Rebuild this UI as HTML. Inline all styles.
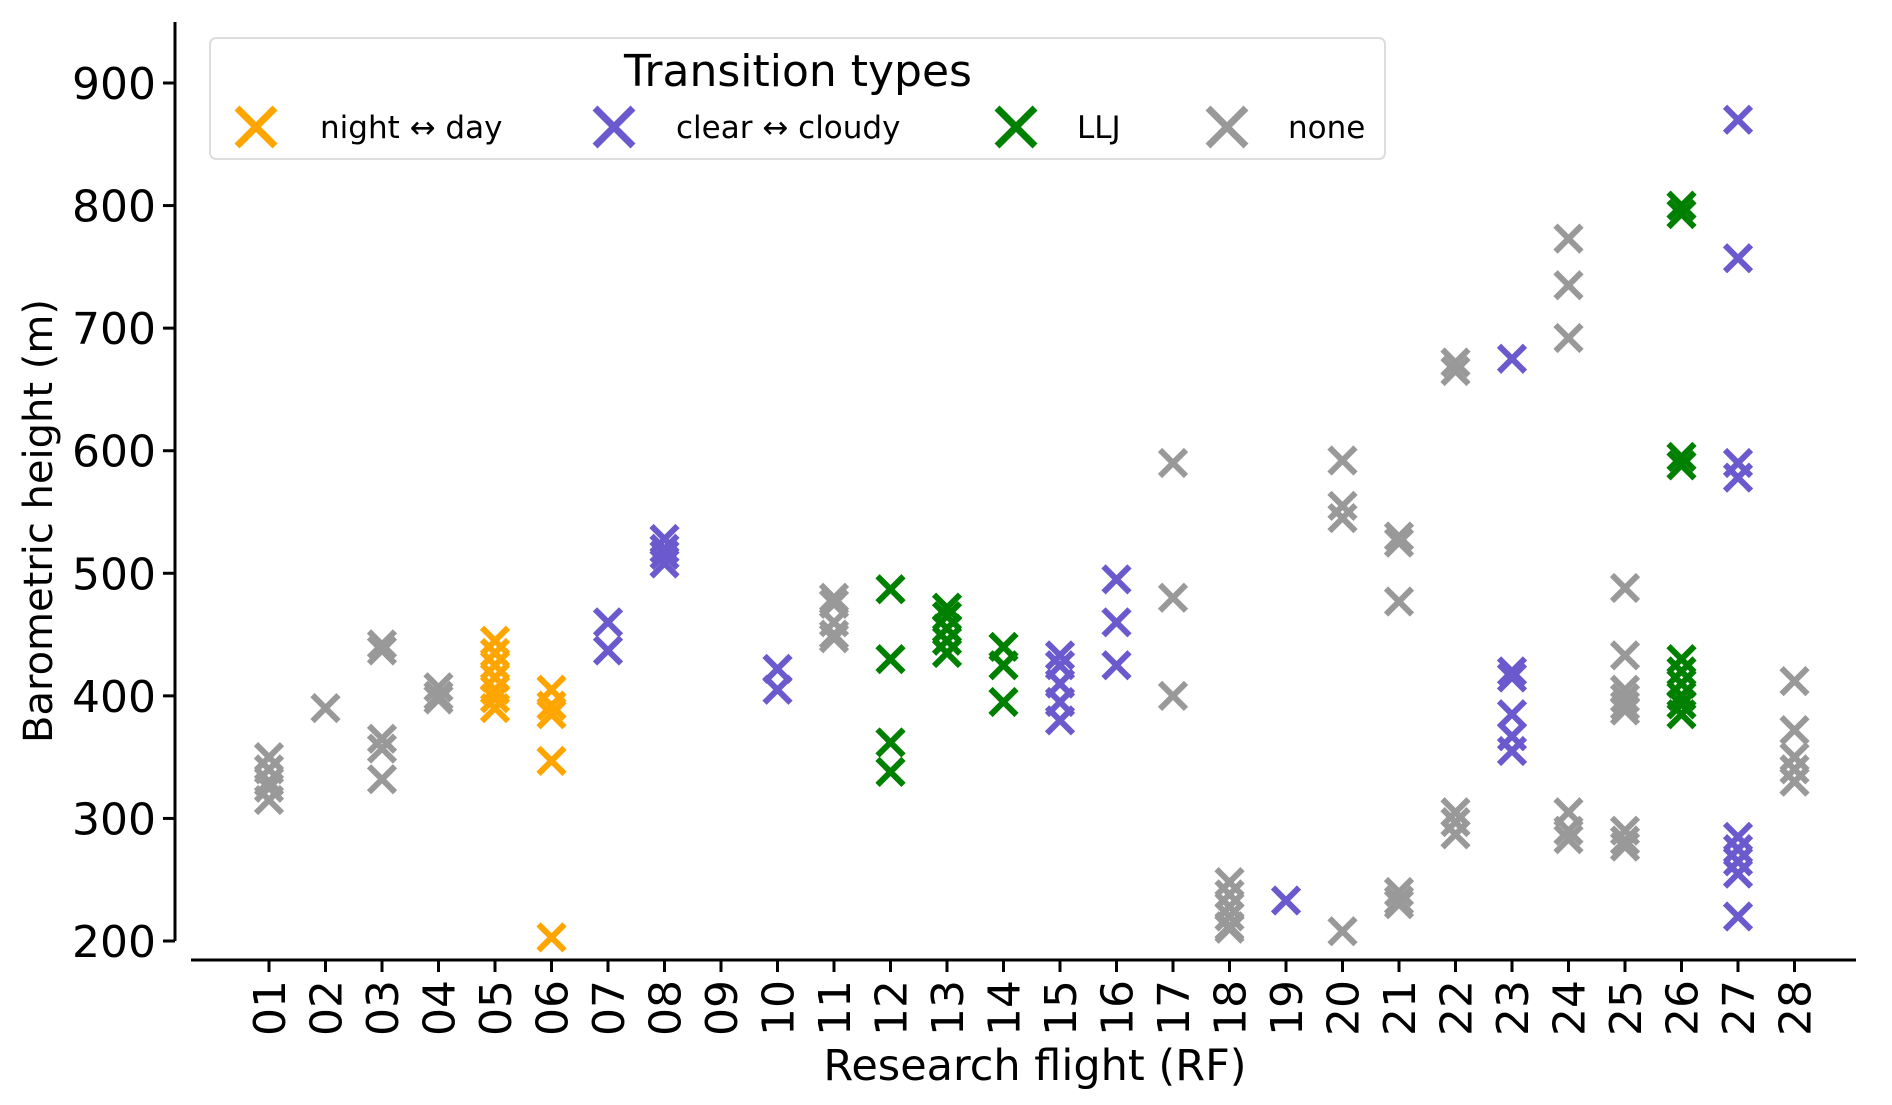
<!DOCTYPE html>
<html><head><meta charset="utf-8"><style>
html,body{margin:0;padding:0;background:#fff;}
svg{display:block;font-family:"DejaVu Sans","Liberation Sans",sans-serif;}
</style></head><body>
<svg id="chart" width="1892" height="1105" viewBox="0 0 1892 1105" xmlns="http://www.w3.org/2000/svg">
<g id="plot"></g>
<g id="axes"></g>
<g id="legend"></g>
</svg>
<script>
const categories = ["01","02","03","04","05","06","07","08","09","10","11","12","13","14","15","16","17","18","19","20","21","22","23","24","25","26","27","28"];
const yTicks = [200,300,400,500,600,700,800,900];
const seriesNames = ["night \u2194 day","clear \u2194 cloudy","LLJ","none"];
const seriesColors = ["#FFA500","#6A5ACD","#008000","#999999"];
// each point: [categoryIndex, value, seriesIndex]
const pointsNight = [[4,445,0],[4,435,0],[4,425,0],[4,415,0],[4,405,0],[4,398,0],[4,390,0],[5,405,0],[5,392,0],[5,385,0],[5,347,0],[5,203,0]];
const pointsCloud = [[6,460,1],[6,437,1],[7,528,1],[7,520,1],[7,515,1],[7,508,1],[9,422,1],[9,405,1],[14,433,1],[14,425,1],[14,410,1],[14,395,1],[14,380,1],[15,495,1],[15,460,1],[15,425,1],[18,233,1],[22,675,1],[22,420,1],[22,415,1],[22,385,1],[22,367,1],[22,355,1],[26,870,1],[26,757,1],[26,590,1],[26,578,1],[26,285,1],[26,275,1],[26,265,1],[26,255,1],[26,220,1]];
const pointsLLJ = [[11,487,2],[11,430,2],[11,362,2],[11,338,2],[12,472,2],[12,465,2],[12,455,2],[12,445,2],[12,435,2],[13,440,2],[13,425,2],[13,395,2],[25,800,2],[25,793,2],[25,595,2],[25,588,2],[25,430,2],[25,420,2],[25,410,2],[25,400,2],[25,393,2],[25,385,2]];
const pointsNone = [[0,350,3],[0,340,3],[0,330,3],[0,325,3],[0,315,3],[1,390,3],[2,442,3],[2,437,3],[2,365,3],[2,357,3],[2,332,3],[3,407,3],[3,400,3],[3,397,3],[10,480,3],[10,475,3],[10,460,3],[10,450,3],[10,447,3],[16,590,3],[16,480,3],[16,400,3],[17,248,3],[17,238,3],[17,228,3],[17,220,3],[17,212,3],[17,210,3],[19,592,3],[19,555,3],[19,545,3],[19,208,3],[20,530,3],[20,525,3],[20,477,3],[20,240,3],[20,233,3],[20,230,3],[21,672,3],[21,665,3],[21,305,3],[21,297,3],[21,287,3],[23,773,3],[23,735,3],[23,692,3],[23,305,3],[23,290,3],[23,283,3],[24,488,3],[24,433,3],[24,405,3],[24,398,3],[24,392,3],[24,388,3],[24,290,3],[24,282,3],[24,277,3],[27,412,3],[27,372,3],[27,350,3],[27,340,3],[27,330,3]];

const NS="http://www.w3.org/2000/svg";
function xPos(i){return 269 + i*56.5;}
function yPos(v){return 941 - (v-200)*(941-83)/700;}
function mk(tag,attrs,parent){const e=document.createElementNS(NS,tag);for(const k in attrs)e.setAttribute(k,attrs[k]);parent.appendChild(e);return e;}
function cross(g,cx,cy,h,color,w){
  mk('path',{d:`M${cx-h},${cy-h}L${cx+h},${cy+h}M${cx-h},${cy+h}L${cx+h},${cy-h}`,stroke:color,'stroke-width':w,fill:'none'},g);
}
const plot=document.getElementById('plot');
[pointsNone,pointsNight,pointsCloud,pointsLLJ].forEach(arr=>{
  arr.forEach(p=>{
    const g=mk('g',{},plot);
    
    
    cross(g,xPos(p[0]),yPos(p[1]),13,seriesColors[p[2]],6);
  });
});
const axes=document.getElementById('axes');
const ya=mk('line',{x1:175,y1:22,x2:175,y2:941,stroke:'#000','stroke-width':3},axes);


const xa=mk('line',{x1:191,y1:960,x2:1856,y2:960,stroke:'#000','stroke-width':3},axes);


yTicks.forEach(v=>{
  const y=yPos(v);
  mk('line',{x1:163,y1:y,x2:175,y2:y,stroke:'#000','stroke-width':3},axes);
  const t=mk('text',{x:156,y:y+16,'text-anchor':'end','font-size':44},axes);
  
  
  t.textContent=v;
});
categories.forEach((c,i)=>{
  const x=xPos(i);
  mk('line',{x1:x,y1:960,x2:x,y2:972,stroke:'#000','stroke-width':3},axes);
  const t=mk('text',{x:0,y:0,'text-anchor':'end','font-size':44,transform:`translate(${x+16},980) rotate(-90)`},axes);
  
  
  t.textContent=c;
});
const xl=mk('text',{x:1035,y:1080,'text-anchor':'middle','font-size':43},axes);


xl.textContent='Research flight (RF)';
const yl=mk('text',{x:0,y:0,'text-anchor':'middle','font-size':40,transform:'translate(52,521) rotate(-90)'},axes);


yl.textContent='Barometric height (m)';

const lg=document.getElementById('legend');
mk('rect',{x:210,y:38,width:1175,height:121,rx:6,fill:'#fff','fill-opacity':0.8,stroke:'#ddd','stroke-width':2},lg);
const lt=mk('text',{x:798,y:86,'text-anchor':'middle','font-size':44},lg);


lt.textContent='Transition types';
const markX=[256,614,1016,1227];
const textX=[320,676,1077,1288];
seriesNames.forEach((n,i)=>{
  const g=mk('g',{},lg);
  
  
  cross(g,markX[i],127,19,seriesColors[i],7);
  const t=mk('text',{x:textX[i],y:138,'font-size':31},g);
  t.textContent=n;
});
</script>
</body></html>
